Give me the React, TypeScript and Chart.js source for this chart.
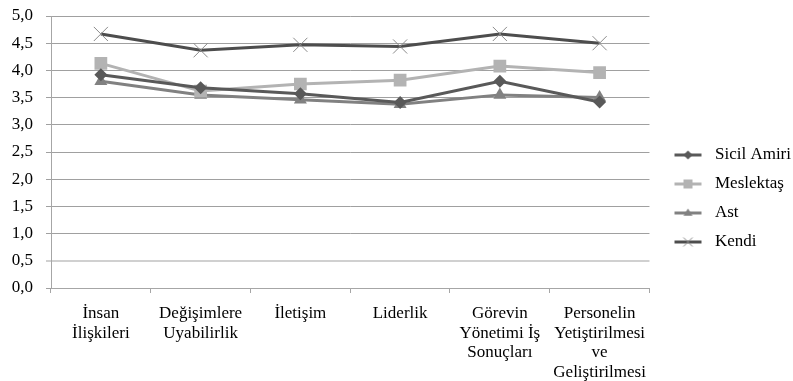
import React, { useEffect, useRef } from "react";
import { Chart, registerables } from "chart.js";

Chart.register(...registerables);

const categories: string[][] = [
  ["İnsan", "İlişkileri"],
  ["Değişimlere", "Uyabilirlik"],
  ["İletişim"],
  ["Liderlik"],
  ["Görevin", "Yönetimi İş", "Sonuçları"],
  ["Personelin", "Yetiştirilmesi", "ve", "Geliştirilmesi"],
];

const sicilAmiri = [3.92, 3.68, 3.57, 3.41, 3.8, 3.42];
const meslektas = [4.13, 3.62, 3.75, 3.82, 4.08, 3.96];
const ast = [3.8, 3.55, 3.46, 3.38, 3.55, 3.5];
const kendi = [4.67, 4.37, 4.47, 4.44, 4.67, 4.5];

const yTicks = [0, 0.5, 1, 1.5, 2, 2.5, 3, 3.5, 4, 4.5, 5];

const FONT = "'Liberation Serif', 'Times New Roman', serif";

function legendIcon(lineColor: string, markerColor: string, style: string): HTMLCanvasElement {
  const c = document.createElement("canvas");
  const w = 45;
  const h = 14;
  c.width = w;
  c.height = h;
  const ctx = c.getContext("2d")!;
  const x0 = 13;
  const x1 = 40;
  const cy = h / 2;
  const cx = (x0 + x1) / 2;
  ctx.strokeStyle = lineColor;
  ctx.lineWidth = 3;
  ctx.beginPath();
  ctx.moveTo(x0, cy);
  ctx.lineTo(x1, cy);
  ctx.stroke();
  ctx.fillStyle = markerColor;
  ctx.strokeStyle = markerColor;
  const r = 4.5;
  if (style === "rectRot") {
    ctx.beginPath();
    ctx.moveTo(cx, cy - r);
    ctx.lineTo(cx + r, cy);
    ctx.lineTo(cx, cy + r);
    ctx.lineTo(cx - r, cy);
    ctx.closePath();
    ctx.fill();
  } else if (style === "rect") {
    ctx.fillRect(cx - r, cy - r, 2 * r, 2 * r);
  } else if (style === "triangle") {
    ctx.beginPath();
    ctx.moveTo(cx, cy - r);
    ctx.lineTo(cx + r, cy + r * 0.6);
    ctx.lineTo(cx - r, cy + r * 0.6);
    ctx.closePath();
    ctx.fill();
  } else {
    ctx.lineWidth = 1;
    ctx.beginPath();
    ctx.moveTo(cx - r, cy - r);
    ctx.lineTo(cx + r, cy + r);
    ctx.moveTo(cx + r, cy - r);
    ctx.lineTo(cx - r, cy + r);
    ctx.stroke();
  }
  return c;
}

export default function App() {
  const ref = useRef<HTMLCanvasElement>(null);

  useEffect(() => {
    document.body.style.margin = "0";
    const series = [
      { label: "Sicil Amiri", data: sicilAmiri, color: "#595959", marker: "#595959", style: "rectRot", radius: 6.5 },
      { label: "Meslektaş", data: meslektas, color: "#b3b3b3", marker: "#b3b3b3", style: "rect", radius: 9 },
      { label: "Ast", data: ast, color: "#818181", marker: "#818181", style: "triangle", radius: 7.5 },
      { label: "Kendi", data: kendi, color: "#4d4d4d", marker: "#8a8a8a", style: "crossRot", radius: 10 },
    ];
    const chart = new Chart(ref.current!, {
      type: "line",
      data: {
        labels: categories,
        datasets: series.map((s) => ({
          label: s.label,
          data: s.data,
          borderColor: s.color,
          backgroundColor: s.marker,
          pointBackgroundColor: s.marker,
          pointBorderColor: s.marker,
          pointBorderWidth: s.style === "crossRot" ? 1 : 0,
          pointStyle: s.style as any,
          pointRadius: s.radius,
          borderWidth: 3,
          tension: 0,
          // @ts-ignore
          iconCanvas: legendIcon(s.color, s.marker, s.style),
        })),
      },
      options: {
        animation: false,
        responsive: false,
        layout: { padding: { top: 16, right: -8, bottom: 0, left: 0 } },
        plugins: {
          tooltip: { enabled: false },
          legend: {
            position: "right",
            labels: {
              usePointStyle: true,
              pointStyleWidth: 45,
              boxHeight: 14,
              padding: 12,
              color: "#000",
              font: { family: FONT, size: 17 },
              generateLabels: (ch: any) =>
                ch.data.datasets.map((ds: any, i: number) => ({
                  text: ds.label,
                  pointStyle: ds.iconCanvas,
                  fillStyle: ds.borderColor,
                  strokeStyle: ds.borderColor,
                  lineWidth: 0,
                  hidden: false,
                  datasetIndex: i,
                  fontColor: "#000",
                })),
            },
          },
        },
        scales: {
          x: {
            offset: true,
            afterFit: (scale: any) => {
              scale.height = 93;
              scale.paddingLeft = 0;
              scale.paddingRight = 0;
            },
            grid: {
              offset: true,
              drawOnChartArea: false,
              drawTicks: true,
              tickLength: 5,
              color: "#a6a6a6",
            },
            border: { display: true, color: "#a6a6a6" },
            ticks: {
              color: "#000",
              font: { family: FONT, size: 17, lineHeight: 1.15 },
              padding: 11,
              maxRotation: 0,
              autoSkip: false,
            },
          },
          y: {
            min: 0,
            max: 5,
            afterFit: (scale: any) => {
              scale.width = 51;
              scale.paddingTop = 0;
              scale.paddingBottom = 0;
            },
            afterBuildTicks: (scale: any) => {
              scale.ticks = yTicks.map((v) => ({ value: v }));
            },
            grid: {
              color: (ctx: any) => (ctx.index === 1 ? "#d0d0d0" : "#a0a0a0"),
              tickLength: 5,
              lineWidth: (ctx: any) => (ctx.index === 1 ? 2 : 1),
            },
            border: { display: true, color: "#a6a6a6" },
            ticks: {
              color: "#000",
              font: { family: FONT, size: 17 },
              padding: 13,
              callback: (v: any) => Number(v).toFixed(1).replace(".", ","),
            },
          },
        },
      },
    });
    return () => chart.destroy();
  }, []);

  return (
    <div style={{ width: 793, height: 381 }}>
      <canvas ref={ref} width={793} height={381} style={{ display: "block" }} />
    </div>
  );
}
